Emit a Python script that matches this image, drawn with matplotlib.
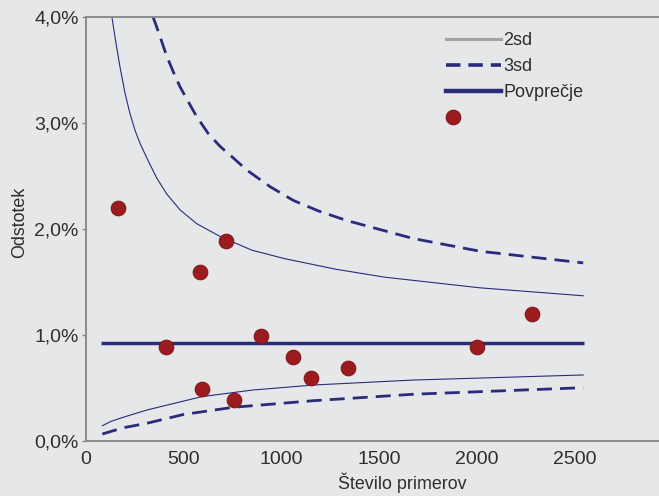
import matplotlib
matplotlib.use("Agg")
import matplotlib.pyplot as plt
from matplotlib.lines import Line2D
from matplotlib.legend_handler import HandlerLine2D
from matplotlib.ticker import FuncFormatter

# ---- data ----
pts_n = [164, 413, 586, 718, 593, 758, 898, 1060, 1153, 1339, 1998, 2280]
pts_pct = [2.20, 0.89, 1.59, 1.89, 0.49, 0.39, 0.99, 0.79, 0.59, 0.69, 0.89, 1.20]

mean_n = [78, 2546]
mean_pct = [0.922, 0.922]

up2_n = [134, 156, 176, 202, 227, 253, 278, 321, 364, 415, 483, 568, 687,
         850, 1018, 1280, 1530, 2015, 2542]
up2_pct = [4.01, 3.75, 3.53, 3.28, 3.09, 2.93, 2.81, 2.64, 2.48, 2.33, 2.18, 2.05, 1.93,
           1.80, 1.72, 1.62, 1.545, 1.445, 1.37]

up3_n = [345, 360, 389, 415, 449, 483, 525, 568, 627, 687, 755, 823, 942, 1061,
         1190, 1334, 1674, 2015, 2542]
up3_pct = [4.00, 3.925, 3.77, 3.63, 3.48, 3.34, 3.20, 3.06, 2.90, 2.78, 2.67, 2.557, 2.40, 2.27,
           2.17, 2.08, 1.91, 1.79, 1.68]

lo2_n = [86, 130, 193, 260, 313, 397, 593, 850, 1163, 1674, 2542]
lo2_pct = [0.144, 0.185, 0.224, 0.262, 0.292, 0.330, 0.418, 0.480, 0.528, 0.575, 0.623]

lo3_n = [86, 193, 313, 500, 755, 1163, 1674, 2542]
lo3_pct = [0.066, 0.125, 0.167, 0.250, 0.318, 0.380, 0.441, 0.503]

y_ticks = [0, 1, 2, 3, 4]
x_ticks = [0, 500, 1000, 1500, 2000, 2500]
legend_labels = ["2sd", "3sd", "Povprečje", ""]

# ---- style ----
BG = "#e6e7e9"
NAVY = "#2a2b7b"
RED = "#9b1b1f"
plt.rcParams["font.family"] = ["Liberation Sans", "DejaVu Sans"]

fig = plt.figure(figsize=(6.59, 4.96), dpi=100, facecolor=BG)
ax = fig.add_axes([85.5 / 659, 1 - 441 / 496, 1 - 85.5 / 659, (441 - 17) / 496])
ax.set_facecolor(BG)

ax.plot(up2_n, up2_pct, color=NAVY, lw=0.8)
ax.plot(lo2_n, lo2_pct, color=NAVY, lw=0.8)
ax.plot(up3_n, up3_pct, color=NAVY, lw=2.0, dashes=(5.4, 2.9))
ax.plot(lo3_n, lo3_pct, color=NAVY, lw=2.0, dashes=(5.4, 2.9))
ax.plot(mean_n, mean_pct, color=NAVY, lw=2.5, solid_capstyle="butt")
ax.plot(pts_n, pts_pct, ls="none", marker="o", ms=10.5, mfc=RED,
        mec="#86161a", mew=0.8, zorder=5)

ax.set_xlim(0, 2929)
ax.set_ylim(0, 4)
ax.set_xticks(x_ticks)
ax.set_yticks(y_ticks)
ax.yaxis.set_major_formatter(FuncFormatter(lambda v, p: f"{v:.1f}%".replace(".", ",")))

for s in ["left", "top", "bottom"]:
    ax.spines[s].set_color("#8a8a8a")
    ax.spines[s].set_linewidth(1.4)
ax.spines["right"].set_visible(False)

ax.tick_params(axis="x", length=0, pad=7, labelsize=14, labelcolor="#2e2e2e")
ax.tick_params(axis="y", length=3, width=1, color="#8a8a8a", pad=2,
               labelsize=14, labelcolor="#2e2e2e")

ax.set_xlabel("Število primerov", fontsize=12.9, color="#2e2e2e")
ax.xaxis.set_label_coords((402 - 85.5) / 573.5, -0.075)
ax.set_ylabel("Odstotek", fontsize=12.9, color="#2e2e2e")
ax.yaxis.set_label_coords(-0.100, 0.516)


class LeftMarkerHandler(HandlerLine2D):
    def get_xdata(self, legend, xdescent, ydescent, width, height, fontsize):
        # single-point handles put the marker in the middle of xdata
        xdata = [-xdescent, -xdescent + 0.24 * width]
        return xdata, [-xdescent + 0.12 * width]


handles = [
    Line2D([], [], color="#a3a3a3", lw=2.2),
    Line2D([], [], color=NAVY, lw=2.6, dashes=(4.0, 2.2)),
    Line2D([], [], color=NAVY, lw=3.2),
    Line2D([], [], ls="none", marker="o", ms=10.5, mfc=RED, mec="#86161a", mew=0.8),
]
leg = ax.legend(handles, legend_labels, loc="upper left",
                bbox_to_anchor=(446 / 659, 1 - 32 / 496), bbox_transform=fig.transFigure,
                frameon=False, fontsize=13, handlelength=3.05, handletextpad=0.12,
                labelspacing=0.5, borderpad=0, borderaxespad=0,
                handler_map={handles[3]: LeftMarkerHandler(numpoints=1)})
for t in leg.get_texts():
    t.set_color("#2e2e2e")

fig.savefig("out.png", dpi=100, facecolor=BG)
